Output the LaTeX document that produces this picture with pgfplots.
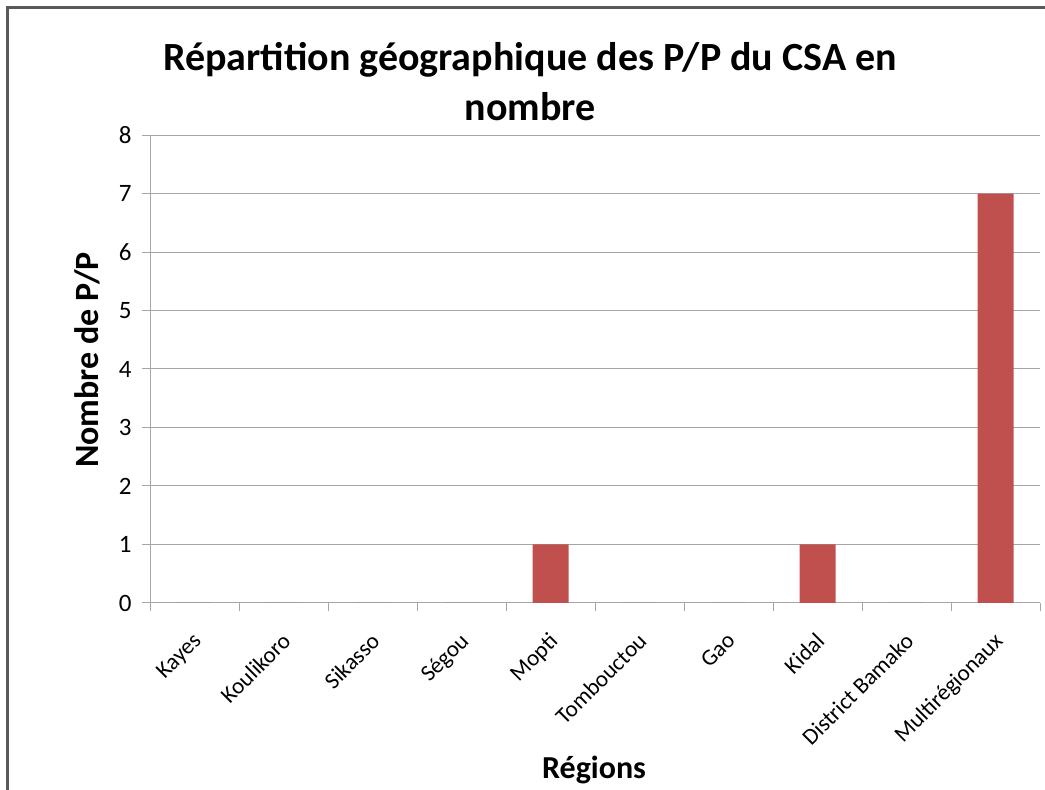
\documentclass[border=0pt]{standalone}
\usepackage{pgfplots}
\pgfplotsset{compat=1.18}
\usepackage{fontspec}
\setmainfont{Carlito}
\definecolor{barred}{HTML}{C0504D}
\definecolor{gridgray}{HTML}{A6A6A6}
\begin{document}
\begin{tikzpicture}[x=1pt,y=1pt]
\path[use as bounding box] (0,0) rectangle (1045,790);
\draw[color=black!65,line width=2.5pt] (7.5,-5) -- (7.5,782.5) -- (1050,782.5);
\begin{axis}[
  at={(150pt,187pt)}, anchor=south west,
  scale only axis, width=890pt, height=468pt,
  xmin=0, xmax=10, ymin=0, ymax=8,
  ytick={0,1,...,8},
  xtick={0.5,1.5,...,9.5},
  xticklabels={Kayes,Koulikoro,Sikasso,Ségou,Mopti,Tombouctou,Gao,Kidal,District Bamako,Multirégionaux},
  minor xtick={0,1,...,10},
  major x tick style={draw=none},
  minor x tick style={draw=gridgray, line width=1pt},
  minor tick length=8pt,
  y tick style={draw=gridgray, line width=1pt},
  major tick length=8pt,
  tick align=outside,
  axis x line*=bottom, axis y line*=left,
  axis line style={draw=gridgray, line width=1pt, -},
  ymajorgrids, grid style={draw=gridgray, line width=1pt},
  /pgf/number format/assume math mode=true,
  yticklabel style={font=\fontsize{25}{29}\selectfont, xshift=-7pt},
  xticklabel style={font=\fontsize{23}{27}\selectfont, rotate=45, anchor=north east, xshift=-13pt, yshift=-9pt},
  ybar, bar width=36pt, bar shift=0pt,
  clip=false,
]
\addplot[fill=barred, draw=none] coordinates {(0.5,0) (1.5,0) (2.5,0) (3.5,0) (4.5,1) (5.5,0) (6.5,0) (7.5,1) (8.5,0) (9.5,7)};
\end{axis}
\node[font=\bfseries\fontsize{40}{50}\selectfont, align=center] at (530,708) {Répartition géographique des P/P du CSA en\\nombre};
\node[font=\bfseries\fontsize{34}{38}\selectfont, rotate=90] at (87,430) {Nombre de P/P};
\node[font=\bfseries\fontsize{32}{36}\selectfont] at (594,20) {Régions};
\end{tikzpicture}
\end{document}
